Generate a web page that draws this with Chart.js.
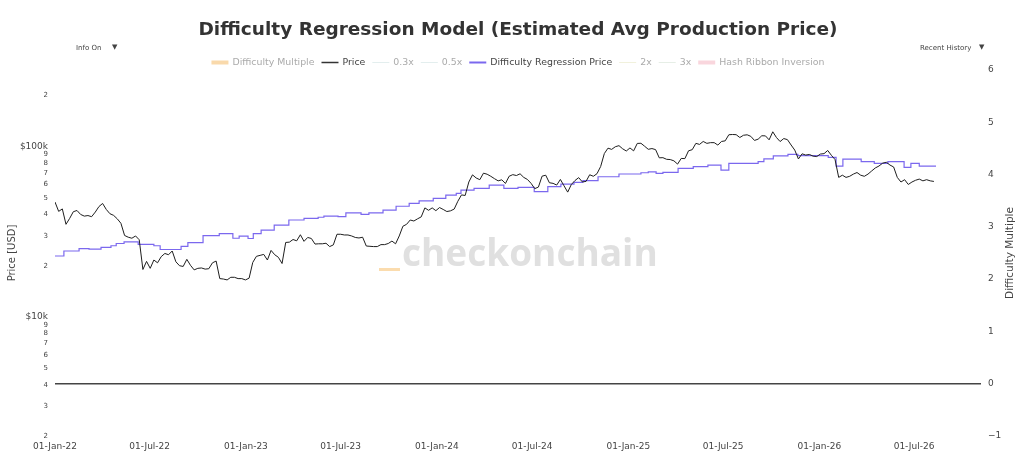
<!DOCTYPE html>
<html lang="en">
<head>
<meta charset="UTF-8">
<title>Difficulty Regression Model</title>
<script src="https://cdn.jsdelivr.net/npm/chart.js"></script>
<style>
  body { margin: 0; background: #fff; }
  #wrap { position: relative; width: 1020px; height: 475px; }
</style>
</head>
<body>
<div id="wrap"><canvas id="chart"></canvas></div>
<script>
// weekly price, USD thousands, first point 01-Jan-22, one every 7 days
const priceStart = '2022-01-01';
const priceStepDays = 7;
const priceValues = [
  // 2022
  47.3, 41.7, 43.1, 35.0, 37.9, 41.5, 42.2, 40.0, 39.1, 39.4,
  38.8, 41.3, 44.5, 46.4, 42.8, 40.4, 39.5, 37.7, 35.5, 30.1,
  29.4, 29.0, 29.9, 28.4, 19.0, 21.2, 19.3, 21.6, 20.8, 22.6,
  23.6, 23.2, 24.4, 21.1, 20.0, 19.8, 21.8, 20.1, 18.9, 19.3,
  19.4, 19.1, 19.2, 20.8, 21.3, 16.8, 16.7, 16.5, 17.1, 17.1,
  16.8, 16.8, 16.5,
  // 2023
  16.9, 20.9, 22.7, 23.0, 23.3, 21.6, 24.6, 23.2, 22.4, 20.6,
  27.4, 27.5, 28.5, 28.0, 30.4, 27.8, 29.3, 28.9, 26.8, 26.9,
  26.9, 27.1, 25.9, 26.5, 30.6, 30.6, 30.3, 30.3, 29.9, 29.3,
  29.1, 29.4, 26.1, 26.0, 25.9, 25.9, 26.6, 26.6, 27.0, 27.9,
  26.9, 29.9, 34.1, 35.0, 37.1, 36.6, 37.7, 38.7, 43.7, 42.3,
  43.7, 42.1,
  // 2024
  43.9, 42.8, 41.6, 42.0, 43.0, 47.8, 52.1, 51.7, 62.0, 68.3,
  65.5, 64.0, 69.9, 68.9, 67.0, 64.9, 63.0, 63.9, 60.8, 67.0,
  68.5, 67.7, 69.3, 66.0, 64.2, 60.9, 56.7, 57.9, 67.1, 68.0,
  61.4, 60.9, 59.5, 64.2, 58.9, 54.1, 60.0, 63.3, 65.8, 62.1,
  62.5, 68.4, 67.0, 69.4, 76.5, 91.1, 98.0, 96.4, 99.9, 101.4,
  97.2, 94.3,
  // 2025
  98.3, 94.5, 104.5, 104.7, 100.6, 96.5, 97.5, 96.1, 86.0, 86.2,
  84.3, 84.0, 82.6, 79.0, 85.3, 85.1, 94.6, 96.0, 104.6, 103.1,
  107.3, 104.6, 105.6, 105.6, 102.2, 107.3, 108.2, 117.5, 117.9, 117.6,
  113.2, 116.7, 117.4, 115.0, 108.8, 110.7, 115.9, 115.7, 109.7, 122.3,
  113.2, 107.2, 111.6, 110.0, 102.3, 95.5, 84.7, 90.8, 89.3, 90.0,
  88.0, 87.5,
  // 2026
  90.5, 91.0, 95.0, 89.0, 84.0, 66.0, 68.0, 66.0, 67.0, 69.0,
  70.5, 68.0, 67.0, 69.0, 72.0, 75.0, 77.0, 80.0, 81.0, 78.0,
  76.0, 66.0, 62.0, 64.0, 60.0, 62.0, 63.5, 64.5, 63.0, 64.0,
  63.0, 62.5
];

// difficulty regression price, step starts and values (USD thousands)
const regDates = [
  '2022-01-01', '2022-01-18', '2022-02-16', '2022-03-07', '2022-03-30',
  '2022-04-18', '2022-04-28', '2022-05-13', '2022-06-09', '2022-07-09',
  '2022-07-21', '2022-08-30', '2022-09-12', '2022-10-11', '2022-11-11',
  '2022-12-07', '2022-12-19', '2023-01-05', '2023-01-15', '2023-01-30',
  '2023-02-24', '2023-03-24', '2023-04-22', '2023-05-19', '2023-05-30',
  '2023-06-26', '2023-07-11', '2023-08-09', '2023-08-24', '2023-09-20',
  '2023-10-15', '2023-11-09', '2023-11-28', '2023-12-25', '2024-01-18',
  '2024-02-07', '2024-02-16', '2024-03-12', '2024-04-10', '2024-05-08',
  '2024-06-04', '2024-07-05', '2024-07-31', '2024-08-25', '2024-09-19',
  '2024-10-06', '2024-11-04', '2024-12-14', '2025-01-25', '2025-02-08',
  '2025-02-23', '2025-03-08', '2025-04-06', '2025-05-05', '2025-06-02',
  '2025-06-27', '2025-07-12', '2025-09-06', '2025-09-17', '2025-10-05',
  '2025-11-02', '2025-11-21', '2026-01-18', '2026-02-02', '2026-02-15',
  '2026-03-22', '2026-04-16', '2026-05-12', '2026-06-12', '2026-06-25',
  '2026-07-11', '2026-08-12'
];
const regValues = [
  22.8, 24.4, 25.2, 25.0, 25.6,
  26.2, 27.0, 27.6, 26.7, 26.2,
  24.9, 26.0, 27.3, 30.0, 30.9,
  29.0, 29.8, 28.9, 30.9, 32.4,
  34.6, 37.1, 37.9, 38.5, 39.1,
  38.8, 40.9, 40.0, 40.9, 42.4,
  44.7, 46.5, 48.1, 49.7, 52.0,
  53.2, 55.6, 56.9, 59.5, 56.9,
  57.7, 54.4, 58.2, 60.3, 61.7,
  63.2, 66.6, 69.1, 70.3, 71.2,
  69.7, 70.6, 74.6, 76.3, 78.0,
  72.9, 79.8, 81.6, 84.7, 88.2,
  90.2, 88.5, 86.6, 76.9, 84.4,
  81.6, 79.8, 81.6, 75.6, 79.8,
  76.9, 76.9
];

const xTickDates = ['2022-01-01', '2022-07-01', '2023-01-01', '2023-07-01', '2024-01-01',
  '2024-07-01', '2025-01-01', '2025-07-01', '2026-01-01', '2026-07-01'];
const xTickLabels = ['01-Jan-22', '01-Jul-22', '01-Jan-23', '01-Jul-23', '01-Jan-24',
  '01-Jul-24', '01-Jan-25', '01-Jul-25', '01-Jan-26', '01-Jul-26'];
const xEndDate = '2026-11-06';

const leftTickValues = [2000, 3000, 4000, 5000, 6000, 7000, 8000, 9000,
  10000, 20000, 30000, 40000, 50000, 60000, 70000, 80000, 90000, 100000, 200000];
const leftTickLabels = ['2', '3', '4', '5', '6', '7', '8', '9',
  '$10k', '2', '3', '4', '5', '6', '7', '8', '9', '$100k', '2'];
const rightTickLabels = ['\u22121', '0', '1', '2', '3', '4', '5', '6'];

const legendNames = ['Difficulty Multiple', 'Price', '0.3x', '0.5x',
  'Difficulty Regression Price', '2x', '3x', 'Hash Ribbon Inversion'];
const legendColors = ['#f9d9ab', '#333333', '#e3eeee', '#e3eeee',
  '#7b68ee', '#f1f1dc', '#e6eee6', '#f9d6dd'];
const legendWidths = [4, 1.5, 1, 1, 2, 1, 1, 4];
const legendActive = [false, true, false, false, true, false, false, false];

const dayOf = s => (Date.parse(s) - Date.parse('2022-01-01')) / 86400000;
const startDay = dayOf(priceStart);

const priceData = priceValues.map((v, i) => ({ x: startDay + i * priceStepDays, y: v * 1000 }));
const regData = regDates.map((d, i) => ({ x: dayOf(d), y: regValues[i] * 1000 }));

Chart.defaults.font.family = '"DejaVu Sans", Verdana, sans-serif';
Chart.defaults.color = '#444';

const extras = {
  id: 'extras',
  beforeDatasetsDraw(chart) {
    const ctx = chart.ctx;
    ctx.save();
    ctx.font = 'bold 37px "Open Sans"';
    ctx.fillStyle = '#e0e0e0';
    ctx.textBaseline = 'alphabetic';
    ctx.fillText('checkonchain', 402, 266);
    ctx.fillStyle = '#fbdcae';
    ctx.fillRect(379, 268, 21, 3);
    ctx.restore();
  },
  afterDraw(chart) {
    const ctx = chart.ctx;
    const mid = (chart.chartArea.left + chart.chartArea.right) / 2;
    ctx.save();

    // title
    ctx.font = 'bold 18.5px "DejaVu Sans"';
    ctx.fillStyle = '#333';
    ctx.textAlign = 'center';
    ctx.textBaseline = 'alphabetic';
    ctx.fillText('Difficulty Regression Model (Estimated Avg Production Price)', mid, 35);

    // dropdown labels
    ctx.font = '7px "DejaVu Sans"';
    ctx.textAlign = 'left';
    ctx.textBaseline = 'middle';
    ctx.fillStyle = '#444';
    ctx.fillText('Info On', 76, 48);
    ctx.fillText('\u25BC', 112, 47.5);
    ctx.fillText('Recent History', 920, 48);
    ctx.fillText('\u25BC', 979, 47.5);

    // legend
    ctx.font = '9.4px "DejaVu Sans"';
    const widths = legendNames.map(n => 21 + ctx.measureText(n).width);
    const total = widths.reduce((a, b) => a + b, 0) + 7 * (legendNames.length - 1);
    let lx = mid - total / 2;
    const ly = 62.5;
    legendNames.forEach((name, i) => {
      ctx.strokeStyle = legendColors[i];
      ctx.lineWidth = legendWidths[i];
      ctx.beginPath();
      ctx.moveTo(lx, ly);
      ctx.lineTo(lx + 17, ly);
      ctx.stroke();
      ctx.fillStyle = legendActive[i] ? '#444' : '#aaa';
      ctx.fillText(name, lx + 21, ly);
      lx += widths[i] + 7;
    });

    // right axis title
    ctx.translate(1010, (chart.chartArea.top + chart.chartArea.bottom) / 2);
    ctx.rotate(-Math.PI / 2);
    ctx.font = '10.5px "DejaVu Sans"';
    ctx.fillStyle = '#444';
    ctx.textAlign = 'center';
    ctx.fillText('Difficulty Multiple', 0, 0);
    ctx.restore();
  }
};

new Chart(document.getElementById('chart'), {
  type: 'line',
  data: {
    datasets: [
      {
        label: 'Price',
        data: priceData,
        yAxisID: 'y',
        borderColor: '#1e1e1e',
        borderWidth: 1,
        pointRadius: 0,
        tension: 0
      },
      {
        label: 'Difficulty Regression Price',
        data: regData,
        yAxisID: 'y',
        borderColor: '#7b68ee',
        borderWidth: 1.2,
        pointRadius: 0,
        stepped: true
      }
    ]
  },
  options: {
    responsive: true,
    maintainAspectRatio: false,
    animation: false,
    layout: { padding: { top: 70, left: 0, right: 0, bottom: 0 } },
    plugins: {
      legend: { display: false },
      title: { display: false },
      tooltip: { enabled: false }
    },
    scales: {
      x: {
        type: 'linear',
        min: 0,
        max: dayOf(xEndDate),
        grid: { display: false, drawTicks: false },
        border: { display: false },
        afterBuildTicks: s => { s.ticks = xTickDates.map(d => ({ value: dayOf(d) })); },
        afterFit: s => { s.height = 39; },
        ticks: {
          autoSkip: false,
          maxRotation: 0,
          padding: 5,
          color: '#444',
          font: { size: 9 },
          callback: (v, i) => xTickLabels[i]
        }
      },
      y: {
        type: 'logarithmic',
        position: 'left',
        min: 2000,
        max: 282000,
        grid: { display: false, drawTicks: false },
        border: { display: false },
        afterBuildTicks: s => { s.ticks = leftTickValues.map(v => ({ value: v })); },
        afterFit: s => { s.width = 55; },
        title: {
          display: true,
          text: 'Price [USD]',
          color: '#444',
          font: { size: 10 },
          padding: { top: 6, bottom: 0 }
        },
        ticks: {
          autoSkip: false,
          padding: 7,
          color: '#444',
          font: c => ({ size: c.tick && (c.tick.value === 10000 || c.tick.value === 100000) ? 9 : 7 }),
          callback: (v, i) => leftTickLabels[i]
        }
      },
      y1: {
        type: 'linear',
        position: 'right',
        min: -1,
        max: 6,
        grid: {
          drawTicks: false,
          color: c => (c.tick && c.tick.value === 0 ? '#444' : 'rgba(0,0,0,0)'),
          lineWidth: 1.5
        },
        border: { display: false },
        afterFit: s => { s.width = 39; },
        ticks: {
          stepSize: 1,
          autoSkip: false,
          padding: 7,
          color: '#444',
          font: { size: 9 },
          callback: (v, i) => rightTickLabels[i]
        }
      }
    }
  },
  plugins: [extras]
});
</script>
</body>
</html>
